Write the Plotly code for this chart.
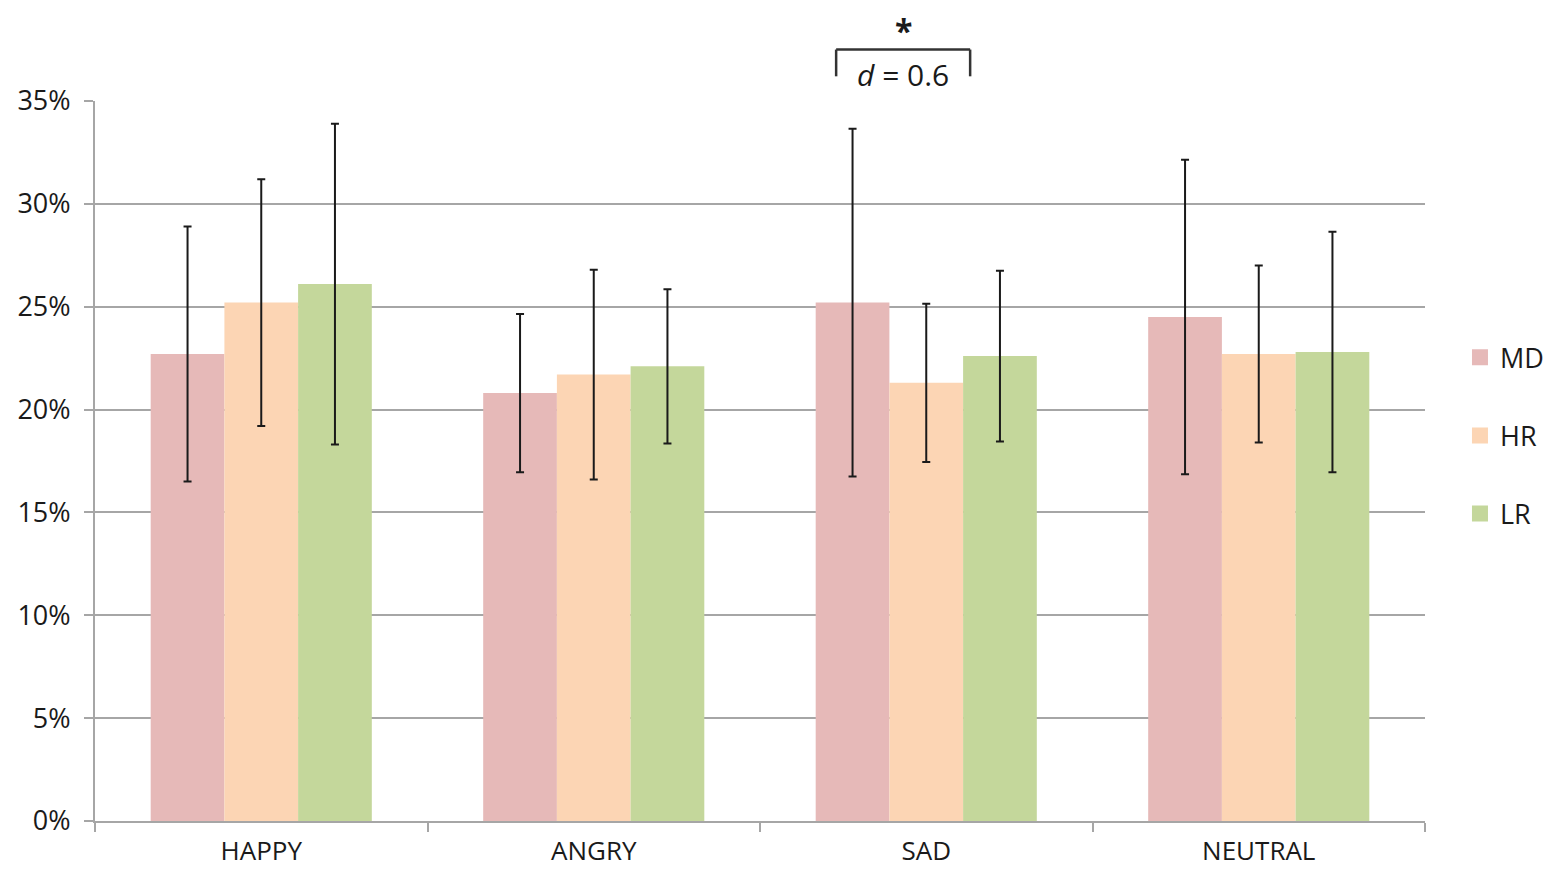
import plotly.graph_objects as go

categories = ["HAPPY", "ANGRY", "SAD", "NEUTRAL"]
series_names = ["MD", "HR", "LR"]
md_values = [22.7, 20.8, 25.2, 24.5]
hr_values = [25.2, 21.7, 21.3, 22.7]
lr_values = [26.1, 22.1, 22.6, 22.8]
md_err = [6.2, 3.85, 8.45, 7.65]
hr_err = [6.0, 5.1, 3.85, 4.3]
lr_err = [7.8, 3.75, 4.15, 5.85]
colors = ["#E6B9B8", "#FCD5B4", "#C4D79B"]
y_ticks = [0, 5, 10, 15, 20, 25, 30, 35]
y_tick_labels = [f"{v}%" for v in y_ticks]
Y_MAX = 35

FONT = "Open Sans, Lato, sans-serif"
fig = go.Figure()
for i, (name, vals, errs) in enumerate(zip(series_names, [md_values, hr_values, lr_values],
                                          [md_err, hr_err, lr_err])):
    fig.add_trace(go.Bar(
        x=categories, y=vals, name=name, legendgroup=name, showlegend=False,
        marker=dict(color=colors[i], line=dict(width=0)),
        error_y=dict(type="data", array=errs, visible=True, color="#1a1a1a",
                     thickness=2, width=4),
    ))
    # legend entry with a larger square swatch
    fig.add_trace(go.Scatter(
        x=[None], y=[None], mode="markers", name=name, legendgroup=name,
        marker=dict(symbol="square", size=19, color=colors[i]),
    ))

grid_col = "#a6a6a6"
fig.update_layout(
    template="none",
    width=1537, height=863,
    margin=dict(l=87, r=120, t=93, b=50, autoexpand=False),
    plot_bgcolor="white", paper_bgcolor="white",
    barmode="group", bargap=0.335, bargroupgap=0,
    font=dict(family=FONT, size=27, color="#1a1a1a"),
    showlegend=True,
    legend=dict(x=1.0263, y=0.535, xanchor="left", yanchor="middle",
                font=dict(size=27, family=FONT), tracegroupgap=40,
                itemwidth=30, bgcolor="rgba(0,0,0,0)"),
    xaxis=dict(type="category", showline=True, linecolor=grid_col, linewidth=2,
               ticks="outside", tickson="boundaries", ticklen=9, tickcolor=grid_col,
               tickwidth=2, showgrid=False, tickfont=dict(size=26, family=FONT),
               range=[-0.5, 3.5], automargin=False, ticklabelstandoff=6),
    yaxis=dict(range=[0, Y_MAX], tickmode="array", tickvals=y_ticks, ticktext=y_tick_labels,
               showgrid=True, gridcolor=grid_col, gridwidth=2, showline=True,
               linecolor=grid_col, linewidth=2, ticks="outside", ticklen=9,
               tickcolor=grid_col, tickwidth=2, zeroline=False, automargin=False,
               tickfont=dict(size=27, family=FONT), ticklabelstandoff=8),
)

# significance bracket over SAD (y in paper units above the plot)
x0, x1 = 1.729, 2.132
y_top, y_leg = 37.5 / Y_MAX, 36.2 / Y_MAX
bracket = dict(color="#333333", width=2.5)
fig.add_shape(type="line", xref="x", yref="paper", x0=x0, x1=x0, y0=y_leg, y1=y_top, line=bracket)
fig.add_shape(type="line", xref="x", yref="paper", x0=x0, x1=x1, y0=y_top, y1=y_top, line=bracket)
fig.add_shape(type="line", xref="x", yref="paper", x0=x1, x1=x1, y0=y_leg, y1=y_top, line=bracket)
fig.add_annotation(x=(x0 + x1) / 2, y=36.3 / Y_MAX, xref="x", yref="paper",
                   text="<i>d</i> = 0.6", showarrow=False, yanchor="middle",
                   font=dict(size=30, family=FONT, color="#1a1a1a"))
fig.add_annotation(x=(x0 + x1) / 2, y=1 + 93 / 720, xref="x", yref="paper",
                   text="<b>*</b>", showarrow=False, yanchor="top", borderpad=0,
                   font=dict(size=32, family=FONT, color="#1a1a1a"))

fig.write_html("out.html")
